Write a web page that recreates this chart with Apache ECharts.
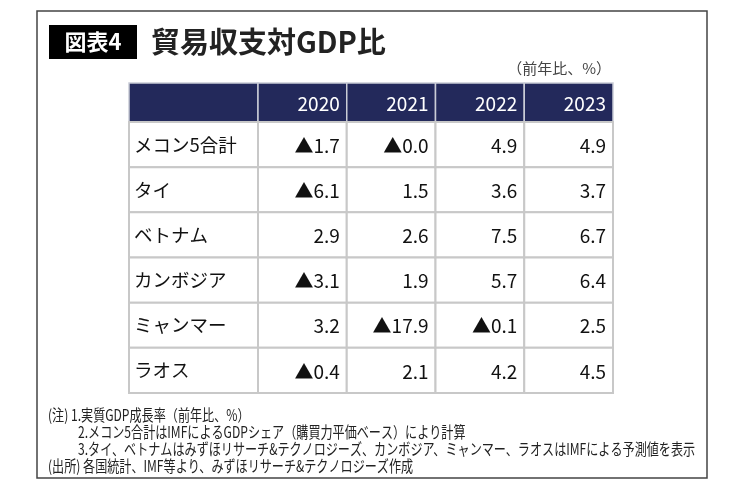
<!DOCTYPE html>
<html>
<head>
<meta charset="utf-8">
<script src="https://cdn.jsdelivr.net/npm/echarts@6/dist/echarts.min.js"></script>
<style>
  html, body { margin: 0; padding: 0; background: #fff; }
  #main { width: 740px; height: 491px; }
</style>
</head>
<body>
<div id="main"></div>
<script>
// 貿易収支対GDP比 table
const years = ['2020', '2021', '2022', '2023'];
const rowNames = ['メコン5合計', 'タイ', 'ベトナム', 'カンボジア', 'ミャンマー', 'ラオス'];
// -0 means ▲0.0
const v2020 = [-1.7, -6.1, 2.9, -3.1, 3.2, -0.4];
const v2021 = [-0, 1.5, 2.6, 1.9, -17.9, 2.1];
const v2022 = [4.9, 3.6, 7.5, 5.7, -0.1, 4.2];
const v2023 = [4.9, 3.7, 6.7, 6.4, 2.5, 4.5];
const notes = [
  '(注) 1.実質GDP成長率（前年比、%）',
  '2.メコン5合計はIMFによるGDPシェア（購買力平価ベース）により計算',
  '3.タイ、ベトナムはみずほリサーチ&テクノロジーズ、カンボジア、ミャンマー、ラオスはIMFによる予測値を表示',
  '(出所) 各国統計、IMF等より、みずほリサーチ&テクノロジーズ作成'
];

const CJK = '"Noto Sans CJK JP", sans-serif';

function fmt(v) {
  if (v < 0 || Object.is(v, -0)) return '▲' + Math.abs(v).toFixed(1);
  return v.toFixed(1);
}

// value cells
const cols = [v2020, v2021, v2022, v2023];
const cellData = [];
const cellText = [];
cols.forEach((arr, c) => {
  arr.forEach((v, r) => {
    cellData.push([c, r]);
    cellText.push(fmt(v));
  });
});

function cellRect(api, fill, stroke, lw) {
  const c = api.coord([api.value(0), api.value(1)]);
  const s = api.size([1, 1]);
  return {
    c: c, s: s,
    el: {
      type: 'rect',
      shape: { x: c[0] - s[0] / 2, y: c[1] - s[1] / 2, width: s[0], height: s[1] },
      style: { fill: fill, stroke: stroke, lineWidth: lw }
    }
  };
}

function renderHeadBlank(params, api) {
  return cellRect(api, '#23295b', '#c9ccd6', 1.5).el;
}

function renderHeadYear(params, api) {
  const r = cellRect(api, '#23295b', '#c9ccd6', 1.5);
  return {
    type: 'group',
    children: [r.el, {
      type: 'text',
      x: r.c[0] + r.s[0] / 2 - 7, y: r.c[1] + 1,
      style: { text: years[params.dataIndex], align: 'right', verticalAlign: 'middle', font: '19px ' + CJK, fill: '#fff' }
    }]
  };
}

function renderRowName(params, api) {
  const r = cellRect(api, '#fff', '#c8c8c8', 2);
  return {
    type: 'group',
    children: [r.el, {
      type: 'text',
      x: r.c[0] - r.s[0] / 2 + 5, y: r.c[1],
      style: { text: rowNames[params.dataIndex], align: 'left', verticalAlign: 'middle', font: '18.5px ' + CJK, fill: '#111' }
    }]
  };
}

function renderValue(params, api) {
  const r = cellRect(api, '#fff', '#c8c8c8', 2);
  return {
    type: 'group',
    children: [r.el, {
      type: 'text',
      x: r.c[0] + r.s[0] / 2 - 7, y: r.c[1] + 1,
      style: { text: cellText[params.dataIndex], align: 'right', verticalAlign: 'middle', font: '19px ' + CJK, fill: '#111' }
    }]
  };
}

const myChart = echarts.init(document.getElementById('main'), null, { renderer: 'canvas' });

const noteGraphics = notes.map((t, i) => ({
  type: 'text',
  x: i === 1 || i === 2 ? 78 : 48,
  y: 415 + i * 17,
  scaleX: 0.78,
  style: { text: t, x: 0, y: 0, verticalAlign: 'middle', font: '15.5px ' + CJK, fill: '#222' }
}));

const option = {
  backgroundColor: '#fff',
  animation: false,
  textStyle: { fontFamily: CJK },
  graphic: [
    {
      type: 'rect', z: 0,
      shape: { x: 37, y: 11, width: 670, height: 467 },
      style: { fill: 'none', stroke: '#444', lineWidth: 1.5 }
    },
    {
      type: 'rect',
      shape: { x: 49, y: 25, width: 88, height: 34 },
      style: { fill: '#000' }
    },
    {
      type: 'text', x: 93, y: 42,
      style: { text: '図表4', align: 'center', verticalAlign: 'middle', font: 'bold 22px ' + CJK, fill: '#fff' }
    },
    {
      type: 'text', x: 151, y: 42,
      style: { text: '貿易収支対GDP比', align: 'left', verticalAlign: 'middle', font: 'bold 29px ' + CJK, fill: '#222' }
    },
    {
      type: 'text', x: 611, y: 68,
      style: { text: '（前年比、%）', align: 'right', verticalAlign: 'middle', font: '15px ' + CJK, fill: '#444' }
    }
  ].concat(noteGraphics),
  grid: [
    { left: 129, top: 83, width: 129, height: 39 },
    { left: 258, top: 83, width: 355, height: 39 },
    { left: 129, top: 122, width: 129, height: 271 },
    { left: 258, top: 122, width: 355, height: 271 }
  ],
  xAxis: [
    { type: 'category', gridIndex: 0, data: [''], show: false },
    { type: 'category', gridIndex: 1, data: years, show: false },
    { type: 'category', gridIndex: 2, data: [''], show: false },
    { type: 'category', gridIndex: 3, data: years, show: false }
  ],
  yAxis: [
    { type: 'category', gridIndex: 0, data: [''], show: false },
    { type: 'category', gridIndex: 1, data: [''], show: false },
    { type: 'category', gridIndex: 2, data: rowNames, inverse: true, show: false },
    { type: 'category', gridIndex: 3, data: rowNames, inverse: true, show: false }
  ],
  series: [
    { type: 'custom', xAxisIndex: 0, yAxisIndex: 0, renderItem: renderHeadBlank, data: [[0, 0]] },
    { type: 'custom', xAxisIndex: 1, yAxisIndex: 1, renderItem: renderHeadYear, data: years.map((y, i) => [i, 0]) },
    { type: 'custom', xAxisIndex: 2, yAxisIndex: 2, renderItem: renderRowName, data: rowNames.map((n, i) => [0, i]) },
    { type: 'custom', xAxisIndex: 3, yAxisIndex: 3, renderItem: renderValue, data: cellData }
  ]
};
myChart.setOption(option);
</script>
</body>
</html>
